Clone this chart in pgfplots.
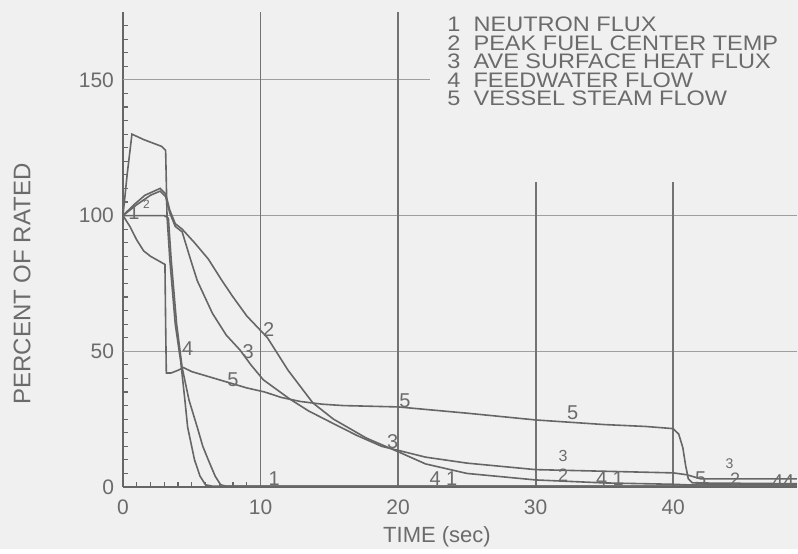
\documentclass[border=0pt]{standalone}
\usepackage{fontspec}
\setmainfont{Liberation Sans}
\newfontfamily\legfont[FakeStretch=1.12]{Liberation Sans}
\usepackage{pgfplots}
\pgfplotsset{compat=1.18}
\definecolor{bg}{gray}{0.94}
\definecolor{ink}{gray}{0.42}
\definecolor{crv}{gray}{0.40}
\definecolor{gridh}{gray}{0.62}
\definecolor{gridv}{gray}{0.45}
\tikzset{crvst/.style={draw=crv, line width=0.8pt, mark=none}}
\begin{document}
\begin{tikzpicture}[x=1pt,y=1pt]
\fill[bg] (-61.5,-31) rectangle (337.5,243.5);
\begin{axis}[
  scale only axis, width=337pt, height=237.5pt,
  at={(0,0)}, anchor=south west,
  xmin=0, xmax=49, ymin=0, ymax=175,
  axis x line=bottom, axis y line=left,
  axis line style={-, draw=crv, line width=0.9pt},
  xtick={0,10,20,30,40}, ytick={0,50,100,150},
  minor xtick={1,2,3,4,5,6,7,8,9},
  minor ytick={5,10,15,20,25,30,35,40,45,55,60,65,70,75,80,85,90,95,105,110,115,120,125,130,135,140,145,155,160,165,170},
  tick align=inside, major tick length=4pt, minor tick length=2.5pt,
  tick style={draw=crv, line width=0.6pt},
  /pgf/number format/assume math mode=true,
  ticklabel style={font=\fontsize{10.5}{12}\selectfont, text=ink},
  xticklabel style={yshift=-3pt},
  yticklabel style={xshift=-1pt},
]
% grid
\draw[gridh, line width=0.6pt] (axis cs:0,50) -- (axis cs:49,50);
\draw[gridh, line width=0.6pt] (axis cs:0,100) -- (axis cs:49,100);
\draw[gridh, line width=0.6pt] (axis cs:0,150) -- (axis cs:22.3,150);
\draw[gridv, line width=0.9pt] (axis cs:10,0) -- (axis cs:10,175);
\draw[gridv, line width=0.9pt] (axis cs:20,0) -- (axis cs:20,175);
\draw[gridv, line width=0.9pt] (axis cs:30,0) -- (axis cs:30,112.5);
\draw[gridv, line width=0.9pt] (axis cs:40,0) -- (axis cs:40,112.5);
% 1 neutron flux
\addplot[crvst] coordinates {(0,100)(0.3,115)(0.65,130)(1.5,128)(2.8,125.5)(3.1,124)(3.2,100)(3.4,84)(3.8,60)(4.2,46)(4.5,32)(4.7,22)(5.2,10)(5.6,4)(6,0.8)(6.5,0.3)(49,0.3)};
% 2 peak fuel center temp
\addplot[crvst] coordinates {(0,100)(0.8,104)(1.6,107.5)(2.7,110)(3.1,108)(3.4,102)(3.8,97)(4.3,95)(5.2,90)(6.2,84)(7.2,76)(8,70)(9,63)(10.5,55)(12,43)(13.8,31)(15.3,25)(17.7,18)(20,13)(22,8.5)(25,5)(30,2.6)(35,1.5)(40,1)(41,0.8)(49,0.8)};
% 3 ave surface heat flux
\addplot[crvst] coordinates {(0,100)(1,104)(2,107.5)(2.7,109)(3.1,107)(3.4,101)(3.8,96)(4.3,94)(4.9,84)(5.4,76)(6.5,64)(7.5,56)(8.5,50.5)(9.3,45)(10.2,39.5)(12.1,32.5)(13.5,28)(15.2,23.6)(17,19)(18.8,15)(20,13.5)(22,11)(25,8.8)(30,6.4)(35,5.8)(40,5.2)(41,4.5)(42,3)(49,3)};
% 4 feedwater flow
\addplot[crvst] coordinates {(0,100)(3.0,100)(3.3,99)(3.5,84)(3.9,60)(4.3,44)(4.8,32)(5.4,22)(5.8,15)(6.2,10)(6.7,4)(7.1,0.8)(7.5,0.3)(49,0.3)};
% 5 vessel steam flow
\addplot[crvst] coordinates {(0,100)(0.5,96)(1,91)(1.5,87)(2,85)(2.7,83)(3.05,82)(3.1,60)(3.15,42)(3.5,42)(4.0,43)(4.4,44)(5,42.5)(6,41)(7,39.5)(8,38)(9,36.5)(10.3,35)(11.5,33)(12.9,31.5)(14.5,30.5)(16,30)(20,29.5)(25,27.2)(30,24.7)(35,23)(38,22.3)(40,21.5)(40.4,19.5)(40.7,14.5)(40.9,8)(41.1,3)(41.4,1.5)(49,1.2)};
% curve numbers
\begin{scope}[every node/.style={font=\fontsize{10}{11}\selectfont, text=ink, inner sep=0.5pt}]
\node at (axis cs:0.8,101) {1};
\node[font=\fontsize{6}{7}\selectfont] at (axis cs:1.7,104) {2};
\node at (axis cs:4.7,51) {4};
\node at (axis cs:8.0,39.5) {5};
\node at (axis cs:9.1,50) {3};
\node at (axis cs:10.6,58) {2};
\node at (axis cs:11,3) {1};
\node at (axis cs:19.6,16.6) {3};
\node at (axis cs:20.5,31.8) {5};
\node at (axis cs:22.7,3) {4};
\node at (axis cs:23.9,3) {1};
\node at (axis cs:32.7,27.5) {5};
\node[font=\fontsize{8}{9}\selectfont] at (axis cs:32,11.3) {3};
\node[font=\fontsize{9}{10}\selectfont] at (axis cs:32,4.2) {2};
\node at (axis cs:34.8,3) {4};
\node at (axis cs:36,3) {1};
\node at (axis cs:42,3) {5};
\node[font=\fontsize{9}{10}\selectfont] at (axis cs:44.5,3) {2};
\node[font=\fontsize{7}{8}\selectfont] at (axis cs:44.1,8.5) {3};
\node at (axis cs:47.6,1.8) {4};
\node at (axis cs:48.4,1.8) {4};
\end{scope}
% legend
\node[anchor=north west, align=left, inner sep=0pt, text=ink,
      font=\legfont\fontsize{10.5}{9.25}\selectfont]
  at (axis cs:23.56,173.2) {1\ \ NEUTRON FLUX\\2\ \ PEAK FUEL CENTER TEMP\\3\ \ AVE SURFACE HEAT FLUX\\4\ \ FEEDWATER FLOW\\5\ \ VESSEL STEAM FLOW};
\end{axis}
\node[rotate=90, font=\fontsize{12}{14}\selectfont, text=ink] at (-50.5,101.5) {PERCENT OF RATED};
\node[font=\fontsize{11}{13}\selectfont, text=ink] at (157,-25) {TIME (sec)};
\useasboundingbox (-61.5,-31) rectangle (337.5,243.5);
\end{tikzpicture}
\end{document}
